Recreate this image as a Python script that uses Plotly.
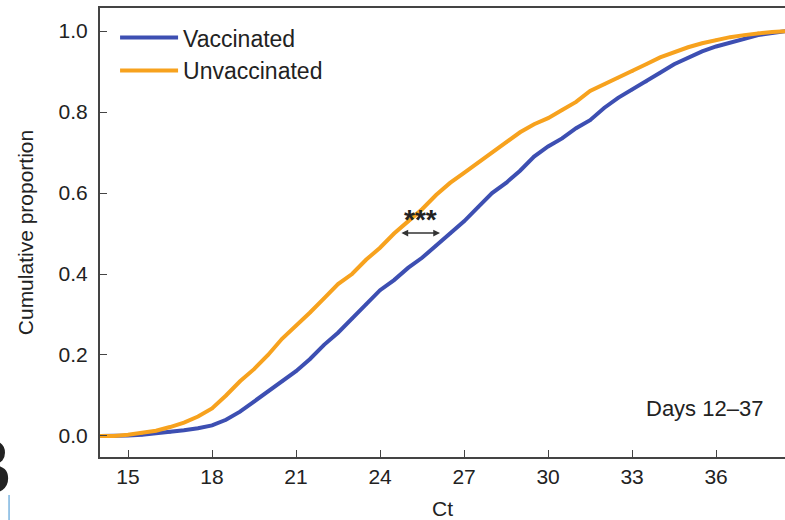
import plotly.graph_objects as go

# Ct values (x)
ct = [14.0, 14.5, 15.0, 15.5, 16.0, 16.5, 17.0, 17.5, 18.0, 18.5,
      19.0, 19.5, 20.0, 20.5, 21.0, 21.5, 22.0, 22.5, 23.0, 23.5,
      24.0, 24.5, 25.0, 25.5, 26.0, 26.5, 27.0, 27.5, 28.0, 28.5,
      29.0, 29.5, 30.0, 30.5, 31.0, 31.5, 32.0, 32.5, 33.0, 33.5,
      34.0, 34.5, 35.0, 35.5, 36.0, 36.5, 37.0, 37.5, 38.0, 38.5]

vaccinated = [0.0, 0.0, 0.001, 0.003, 0.006, 0.01, 0.014, 0.019, 0.026, 0.04,
              0.06, 0.085, 0.11, 0.135, 0.16, 0.19, 0.225, 0.255, 0.29, 0.325,
              0.36, 0.385, 0.415, 0.44, 0.47, 0.50, 0.53, 0.565, 0.60, 0.625,
              0.655, 0.69, 0.715, 0.735, 0.76, 0.78, 0.81, 0.835, 0.855, 0.875,
              0.897, 0.918, 0.935, 0.95, 0.962, 0.972, 0.981, 0.99, 0.995, 1.0]

unvaccinated = [0.0, 0.0, 0.003, 0.007, 0.013, 0.022, 0.033, 0.048, 0.068, 0.10,
                0.135, 0.165, 0.20, 0.24, 0.272, 0.305, 0.34, 0.375, 0.40, 0.435,
                0.465, 0.50, 0.53, 0.56, 0.595, 0.625, 0.65, 0.675, 0.70, 0.725,
                0.75, 0.77, 0.785, 0.805, 0.825, 0.852, 0.868, 0.885, 0.90, 0.918,
                0.935, 0.948, 0.96, 0.97, 0.978, 0.985, 0.99, 0.995, 0.998, 1.0]

x_ticks = [15, 18, 21, 24, 27, 30, 33, 36]
y_ticks = [0.0, 0.2, 0.4, 0.6, 0.8, 1.0]

BLUE = "#3d4fb2"
ORANGE = "#f7a21e"
TXT = "#222222"

fig = go.Figure()
fig.add_trace(go.Scatter(x=ct, y=vaccinated, name="Vaccinated",
                         mode="lines+markers",
                         line=dict(color=BLUE, width=4),
                         marker=dict(color=BLUE, size=3)))
fig.add_trace(go.Scatter(x=ct, y=unvaccinated, name="Unvaccinated",
                         mode="lines+markers",
                         line=dict(color=ORANGE, width=4),
                         marker=dict(color=ORANGE, size=3)))

# significance marker
fig.add_annotation(x=26.14, y=0.501, ax=24.71, ay=0.501, axref="x", ayref="y",
                   text="", showarrow=True, arrowside="end+start",
                   arrowhead=2, arrowsize=0.9, arrowwidth=1.5, arrowcolor="#333")
fig.add_annotation(x=25.45, y=0.535, text="<b>***</b>", showarrow=False,
                   font=dict(size=28, color=TXT))
fig.add_annotation(x=35.6, y=0.069, text="Days 12\u201337", showarrow=False,
                   font=dict(size=22, color=TXT))

# cut-off panel letter at the left edge
fig.add_annotation(xref="paper", yref="paper", x=-0.1255, y=-0.022,
                   xanchor="right", yanchor="middle", text="<b>B</b>",
                   showarrow=False, font=dict(size=80, color="#222"))
fig.add_shape(type="line", xref="paper", yref="paper",
              x0=-0.1328, x1=-0.1328, y0=-0.0846, y1=-0.15,
              line=dict(color="#3a8fd0", width=1))

fig.update_layout(
    width=785, height=520,
    margin=dict(l=100, r=0, t=8, b=63),
    paper_bgcolor="white", plot_bgcolor="white",
    font=dict(family="Liberation Sans, Arial, sans-serif", size=21, color=TXT),
    legend=dict(x=0.022, y=0.982, xanchor="left", yanchor="top",
                bgcolor="rgba(0,0,0,0)", font=dict(size=23),
                itemwidth=58, tracegroupgap=0),
    showlegend=True,
)
fig.update_xaxes(range=[14.0, 38.46], tickvals=x_ticks, showgrid=False,
                 zeroline=False, showline=True, linecolor="#444", linewidth=2,
                 mirror=True, ticks="inside", ticklen=7, tickcolor="#444",
                 ticklabelstandoff=0, automargin=False,
                 title=dict(text="Ct", standoff=15, font=dict(size=21)))
fig.update_yaxes(range=[-0.052, 1.057], tickvals=y_ticks, tickformat=".1f",
                 showgrid=False, zeroline=False, showline=True,
                 linecolor="#444", linewidth=2, ticks="inside", ticklen=7,
                 tickcolor="#444", ticklabelstandoff=6, automargin=False,
                 title=dict(text="Cumulative proportion", standoff=19,
                            font=dict(size=21)))

# drop the browser's default 8px body margin so the figure sits at (0, 0)
fig.write_html("out.html", config={"displayModeBar": False},
               post_script="document.body.style.margin='0';")
